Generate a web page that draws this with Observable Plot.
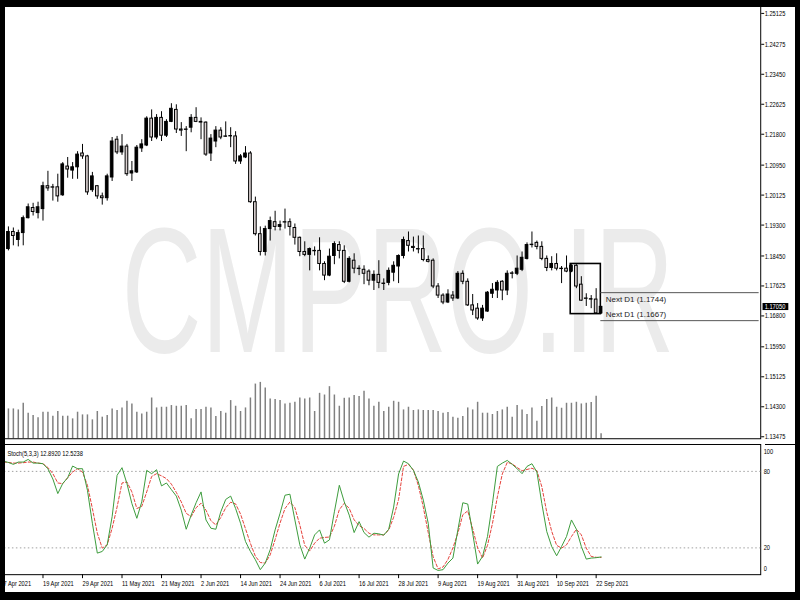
<!DOCTYPE html>
<html><head><meta charset="utf-8">
<script src="https://cdn.jsdelivr.net/npm/d3@7"></script>
<script src="https://cdn.jsdelivr.net/npm/@observablehq/plot@0.6"></script>
<style>
html,body{margin:0;padding:0;background:#000;}
#stage{position:relative;width:800px;height:600px;background:#000;overflow:hidden;}
#chart{position:absolute;left:5px;top:7px;width:790px;height:585px;background:#fff;overflow:hidden;}
.layer{position:absolute;left:-5px;}
#sepx{position:absolute;left:760px;top:437px;width:30px;height:1px;background:#000;}
</style></head>
<body>
<div id="stage"><div id="chart">
  <div id="vol" class="layer" style="top:-7px"></div>
  <div id="main" class="layer" style="top:-7px"></div>
  <div id="stoch" class="layer" style="top:436px"></div>
  <div id="sepx"></div>
</div></div>
<script>
// ---------- data ----------
const opens = [1.1873,1.1864,1.1911,1.1889,1.1908,1.1949,1.1977,1.1963,1.1974,1.2037,
1.2034,1.2034,1.2012,1.2091,1.2080,1.2089,1.2127,1.2119,1.2026,1.2037,
1.2009,1.2004,1.2061,1.2165,1.2130,1.2146,1.2072,1.2075,1.2141,1.2149,
1.2223,1.2171,1.2225,1.2176,1.2214,1.2247,1.2193,1.2193,1.2198,1.2225,
1.2214,1.2212,1.2127,1.2160,1.2190,1.2174,1.2174,1.2174,1.2105,1.2116,
1.2127,1.1993,1.1905,1.1856,1.1919,1.1938,1.1925,1.1938,1.1938,1.1922,
1.1895,1.1856,1.1848,1.1859,1.1859,1.1823,1.1791,1.1845,1.1875,1.1859,
1.1774,1.1832,1.1810,1.1807,1.1802,1.1777,1.1793,1.1769,1.1771,1.1799,
1.1816,1.1845,1.1886,1.1870,1.1864,1.1864,1.1834,1.1832,1.1761,1.1736,
1.1717,1.1736,1.1728,1.1796,1.1774,1.1709,1.1700,1.1673,1.1692,1.1741,
1.1750,1.1774,1.1750,1.1796,1.1796,1.1807,1.1837,1.1875,1.1881,1.1870,
1.1837,1.1812,1.1823,1.1810,1.1810,1.1802,1.1818,1.1766,1.1728,1.1725,
1.1725,1.1687];
const highs = [1.1914,1.1925,1.1922,1.1916,1.1955,1.1988,1.1990,1.1993,1.2048,1.2078,
1.2042,1.2070,1.2102,1.2116,1.2102,1.2132,1.2152,1.2122,1.2075,1.2039,
1.2018,1.2070,1.2171,1.2174,1.2179,1.2152,1.2105,1.2149,1.2165,1.2228,
1.2247,1.2234,1.2242,1.2220,1.2264,1.2261,1.2212,1.2201,1.2234,1.2253,
1.2225,1.2214,1.2179,1.2201,1.2198,1.2214,1.2198,1.2187,1.2124,1.2146,
1.2132,1.2007,1.1925,1.1927,1.1952,1.1968,1.1941,1.1974,1.1947,1.1933,
1.1897,1.1884,1.1867,1.1870,1.1895,1.1829,1.1864,1.1884,1.1884,1.1873,
1.1843,1.1851,1.1818,1.1818,1.1807,1.1804,1.1832,1.1782,1.1812,1.1829,
1.1848,1.1897,1.1911,1.1897,1.1900,1.1900,1.1845,1.1837,1.1769,1.1741,
1.1752,1.1747,1.1802,1.1804,1.1782,1.1739,1.1714,1.1709,1.1747,1.1769,
1.1777,1.1777,1.1804,1.1802,1.1845,1.1856,1.1881,1.1911,1.1886,1.1884,
1.1845,1.1843,1.1851,1.1816,1.1845,1.1821,1.1821,1.1788,1.1741,1.1736,
1.1755,1.1706];
const lows = [1.1864,1.1859,1.1873,1.1870,1.1873,1.1947,1.1955,1.1947,1.1941,1.2023,
1.1996,1.1993,1.2009,1.2059,1.2056,1.2056,1.2111,1.2012,1.2020,1.2001,
1.1985,1.1996,1.2050,1.2124,1.2122,1.2064,1.2050,1.2072,1.2130,1.2146,
1.2160,1.2165,1.2160,1.2171,1.2212,1.2182,1.2174,1.2132,1.2184,1.2212,
1.2165,1.2119,1.2105,1.2143,1.2165,1.2171,1.2143,1.2097,1.2097,1.2113,
1.1990,1.1900,1.1845,1.1845,1.1886,1.1914,1.1914,1.1919,1.1900,1.1875,
1.1843,1.1843,1.1804,1.1845,1.1804,1.1777,1.1788,1.1821,1.1837,1.1769,
1.1771,1.1796,1.1791,1.1766,1.1763,1.1750,1.1755,1.1750,1.1763,1.1774,
1.1769,1.1837,1.1856,1.1856,1.1851,1.1829,1.1826,1.1755,1.1728,1.1711,
1.1714,1.1720,1.1725,1.1766,1.1706,1.1681,1.1668,1.1665,1.1690,1.1728,
1.1728,1.1722,1.1736,1.1782,1.1791,1.1802,1.1834,1.1867,1.1862,1.1832,
1.1802,1.1804,1.1804,1.1769,1.1799,1.1799,1.1755,1.1720,1.1706,1.1700,
1.1684,1.1684];
const closes = [1.1903,1.1911,1.1900,1.1908,1.1949,1.1979,1.1966,1.1979,1.2037,1.2031,
1.2033,1.2009,1.2097,1.2083,1.2089,1.2124,1.2119,1.2020,1.2064,1.2009,
1.2004,1.2064,1.2160,1.2130,1.2146,1.2070,1.2078,1.2143,1.2152,1.2223,
1.2171,1.2225,1.2176,1.2214,1.2250,1.2193,1.2190,1.2192,1.2225,1.2214,
1.2212,1.2124,1.2168,1.2190,1.2171,1.2173,1.2175,1.2105,1.2119,1.2127,
1.1993,1.1905,1.1856,1.1919,1.1941,1.1925,1.1930,1.1937,1.1925,1.1895,
1.1856,1.1848,1.1864,1.1858,1.1823,1.1791,1.1843,1.1878,1.1859,1.1774,
1.1837,1.1810,1.1809,1.1796,1.1777,1.1793,1.1771,1.1768,1.1804,1.1818,
1.1845,1.1889,1.1873,1.1867,1.1863,1.1834,1.1829,1.1761,1.1736,1.1717,
1.1739,1.1728,1.1796,1.1774,1.1709,1.1695,1.1673,1.1700,1.1744,1.1752,
1.1771,1.1750,1.1796,1.1797,1.1810,1.1840,1.1875,1.1876,1.1870,1.1837,
1.1812,1.1823,1.1810,1.1809,1.1802,1.1818,1.1761,1.1722,1.1727,1.1726,
1.1687,1.1705];
const volumes = [30000,30000,30000,29000,35700,25700,23400,21000,26700,26700,
22700,27400,22700,22700,20000,26700,24000,24000,19000,27400,
21700,23400,30000,28400,31000,37700,35000,26700,25000,26700,
41000,31000,31700,31700,33400,32700,32700,33400,20000,29400,
29400,31700,31000,22400,27400,25700,38400,32700,27400,31000,
41000,55000,56700,51000,40000,39400,38400,35000,35700,36700,
41000,40000,41000,27400,45700,44000,52400,44000,32700,40700,
41000,43400,42400,47700,40000,32700,36700,27400,31700,37700,
36700,29000,31700,28400,29000,28400,28400,28400,27400,25700,
26400,21700,20700,22400,31000,29000,36700,25700,25700,24400,
27400,29000,31700,21700,33400,29000,24400,31000,17700,32400,
39400,41000,31700,30700,35700,35700,36700,35000,35700,36400,
42700,5000];
const stochK = [88,87,85.5,87.3,87.3,89.4,86.5,86.5,86,82,
74,62.6,70.5,75,84.2,82.1,82.1,65.2,39.3,15.9,
17.2,22.4,44.5,76.9,82.9,70.4,54.8,43.2,56.1,80.8,
78.2,81.3,68.6,70.9,65.7,60.6,49.6,34.6,45.7,55.4,
63.9,41.9,35.4,34.6,48.3,58,60.6,50.9,39.3,25,
17.2,10.7,2.9,8.1,18.5,34.1,47.1,61.3,62.1,41.9,
22.4,11.2,19.8,30.2,34.1,23.7,26.3,48.3,69.1,56.1,
45.7,32,40.6,32,28.4,31.5,31,30,34.6,52,
78,88.1,86,80.8,71.7,57.5,39.3,4.2,2.3,2.9,
8.1,12,34.1,55.4,54.4,31.5,7.3,13.3,28.9,54.8,
83.9,86.5,88.6,85.5,82.1,78.2,83.9,86,79.5,54.8,
32.8,21.1,13.8,21.1,28.9,41.9,34.6,21.1,11.2,12,
12.3,12.892];
const stochD = [87.3,87,86.5,86.5,86.8,87.3,87.3,86.5,86,83,
78.2,70.9,70.4,75,79.5,82.1,79.5,69.1,50.9,31.5,
19.8,22.4,35.4,52,70.9,71.7,63.9,50.9,52.5,63.9,
76,78.2,76.5,74.3,70,63.5,56.1,47.1,44.5,51.5,
55,49.6,41.3,38,43.8,51.5,55.8,54.5,46.5,35,
23.5,13.5,8.5,8.1,14.5,26.5,39.5,50.9,56,51.5,
38,22,17.5,23.7,27.6,28.2,28.5,37,50,55,
51,42,37.5,35.2,31.5,30.2,30.2,30.2,34,44,
58,83.9,85.5,81,69,52,32,13,3.5,5,
11,20,31.5,46,49,35,20,12,22,39,
60,78,87,86,83,80.5,81.5,82.5,80.5,68,
48,33,22,19.8,22.4,28.9,34.6,30.2,19.8,13.3,
12.6,12.5238];
const priceTicks = [1.25125,1.24275,1.23450,1.22625,1.21800,1.20950,1.20125,1.19300,1.18450,1.17625,1.16800,1.15950,1.15125,1.14300,1.13475];
const dateTickIndex = [0,8,16,24,32,40,48,56,64,72,80,88,96,104,112,120];
const dateTickLabels = ["7 Apr 2021","19 Apr 2021","29 Apr 2021","11 May 2021","21 May 2021","2 Jun 2021","14 Jun 2021","24 Jun 2021","6 Jul 2021","16 Jul 2021","28 Jul 2021","9 Aug 2021","19 Aug 2021","31 Aug 2021","10 Sep 2021","22 Sep 2021"];
const stochScale = [100, 80, 20, 0];
const stochLevels = [80, 20];
const stochTitle = "Stoch(5,3,3) 12.8920 12.5238";
const nextLevels = [1.1744, 1.1667];
const rangeBox = {start: 114.85, end: 120.95, high: 1.1823, low: 1.1685};
const lastPrice = 1.17050;
const watermarkText = "CMPRO.IR";

// ---------- layout ----------
const FONT = "'Liberation Sans', Arial, sans-serif";
const X = {domain: [0, 153], range: [3, 763.41]};
const baseStyle = {background: "transparent", overflow: "visible", fontFamily: FONT, fontSize: "8px", color: "#000"};
const candles = opens.map((o, i) => ({i, o, h: highs[i], l: lows[i], c: closes[i]}));
const nextLabel = d => `Next D1 (${d.toFixed(4)})`;
const fmt5 = d3.format(".5f");

const volSvg = Plot.plot({
  width: 800, height: 442, margin: 0, style: baseStyle,
  x: {...X, axis: null},
  y: {domain: [0, 100000], range: [441, 341], axis: null},
  marks: [Plot.ruleX(volumes, {x: (d, i) => i, y1: 0, y2: d => d, stroke: "#808080", strokeWidth: 1.5})]
});

const mainSvg = Plot.plot({
  width: 800, height: 442,
  marginLeft: 4, marginTop: 6, marginRight: 35, marginBottom: 1,
  style: baseStyle,
  x: {...X, axis: null},
  y: {domain: [1.13475, 1.25125], range: [439, 13], label: null},
  marks: [
    Plot.text([watermarkText], {frameAnchor: "top-left", dx: 396, dy: 348, textAnchor: "middle", lineAnchor: "bottom", fontSize: 180, fill: "#ebebeb", fontFamily: FONT}),
    Plot.frame({stroke: "#000"}),
    Plot.ruleX(candles, {x: "i", y1: "l", y2: "h", stroke: "#000", strokeWidth: 1}),
    Plot.rect(candles, {x1: d => d.i - 0.27, x2: d => d.i + 0.27, y1: "o", y2: "c",
      fill: d => d.c > d.o ? "#000" : "#dbd2d2", stroke: "#000", strokeWidth: 1}),
    Plot.rect([rangeBox], {x1: "start", x2: "end", y1: "low", y2: "high", fill: "none", stroke: "#000", strokeWidth: 1.6}),
    Plot.ruleY(nextLevels, {y: d => d, x1: rangeBox.end, x2: X.domain[1], stroke: "#555"}),
    Plot.text([nextLevels[0]], {x: rangeBox.end, y: d => d, text: nextLabel, dx: 5, dy: 4, textAnchor: "start", lineAnchor: "top", fill: "#222", fontSize: 8}),
    Plot.text([nextLevels[1]], {x: rangeBox.end, y: d => d, text: nextLabel, dx: 5, dy: -4, textAnchor: "start", lineAnchor: "bottom", fill: "#222", fontSize: 8}),
    Plot.axisY(priceTicks, {anchor: "right", tickFormat: fmt5, tickSize: 3, tickPadding: 1, fontSize: 8, label: null}),
    Plot.text([lastPrice], {y: d => d, frameAnchor: "right", dx: 4, textAnchor: "start", lineAnchor: "middle", fill: "#fff", fontSize: 8, text: fmt5})
  ]
});

const stochSvg = Plot.plot({
  width: 800, height: 150,
  marginLeft: 4, marginTop: 1, marginRight: 35, marginBottom: 18,
  style: baseStyle,
  x: {...X, label: null},
  y: {domain: [0, 100], range: [130.7, 2.4], axis: null},
  marks: [
    Plot.frame({stroke: "#000"}),
    Plot.ruleY(stochLevels, {stroke: "#a0a0a0", strokeDasharray: "1.5,2.5"}),
    Plot.lineY(stochD, {stroke: "#e5423b", strokeWidth: 1, strokeDasharray: "3,2"}),
    Plot.lineY(stochK, {stroke: "#3b9b3b", strokeWidth: 1}),
    Plot.text([stochTitle], {frameAnchor: "top-left", dx: 3, dy: 9, textAnchor: "start", lineAnchor: "middle", fontSize: 8}),
    Plot.text([stochScale[0]], {y: d => d, frameAnchor: "right", dx: 3, dy: 6, textAnchor: "start", lineAnchor: "middle", fontSize: 8}),
    Plot.text(stochLevels, {y: d => d, frameAnchor: "right", dx: 3, textAnchor: "start", lineAnchor: "middle", fontSize: 8}),
    Plot.text([stochScale[3]], {y: d => d, frameAnchor: "right", dx: 3, dy: -4.5, textAnchor: "start", lineAnchor: "middle", fontSize: 8}),
    Plot.axisX(dateTickIndex, {anchor: "bottom", tickSize: 4, tickPadding: 2, textAnchor: "start",
      tickFormat: d => dateTickLabels[dateTickIndex.indexOf(d)], fontSize: 8, label: null})
  ]
});

document.getElementById("vol").append(volSvg);
document.getElementById("main").append(mainSvg);
document.getElementById("stoch").append(stochSvg);

// ---------- text fitting: the reference labels are horizontally condensed ----------
function condense(t, factor) {
  const x = parseFloat(t.getAttribute("x")) || 0;
  const tr = t.getAttribute("transform") || "";
  t.setAttribute("transform", `${tr} translate(${x},0) scale(${factor},1) translate(${-x},0)`);
}
const isWatermark = t => t.textContent === watermarkText;
const isNext = t => t.textContent.startsWith("Next D1");
const priceTagText = fmt5(lastPrice);
let tag = null;
mainSvg.querySelectorAll("text").forEach(t => {
  if (isWatermark(t)) { condense(t, 556 / t.getComputedTextLength()); return; }
  if (isNext(t)) return;
  if (t.textContent === priceTagText) tag = t;
  condense(t, 0.72);
});
stochSvg.querySelectorAll("text").forEach(t => condense(t, 0.72));

// black tag behind the current price
if (tag) {
  const bb = tag.getBBox();
  const r = document.createElementNS("http://www.w3.org/2000/svg", "rect");
  r.setAttribute("x", bb.x - 3);
  r.setAttribute("y", bb.y + 0.5);
  r.setAttribute("width", bb.width + 7);
  r.setAttribute("height", bb.height - 1);
  r.setAttribute("fill", "#000");
  r.setAttribute("transform", tag.getAttribute("transform") || "");
  tag.parentNode.insertBefore(r, tag);
}
</script>
</body></html>
